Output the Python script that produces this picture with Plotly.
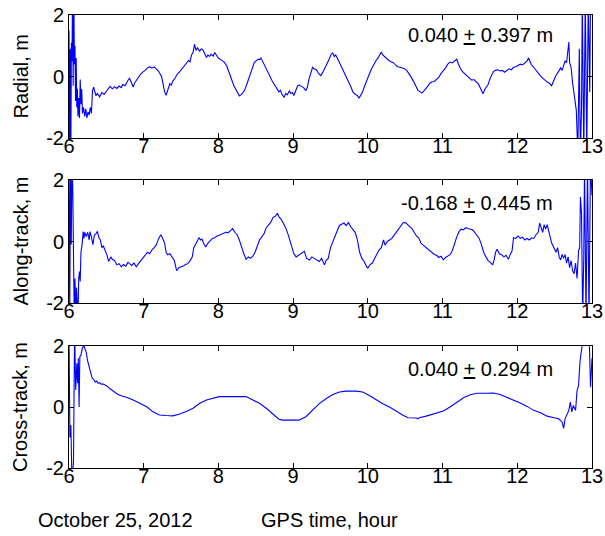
import plotly.graph_objects as go

# ---------------- data ----------------
radial_t = [6.000, 6.008, 6.016, 6.024, 6.032, 6.040, 6.048, 6.056, 6.064, 6.072, 6.080, 6.088, 6.096, 6.104, 6.112, 6.120,
            6.130, 6.140, 6.150, 6.160, 6.170, 6.180, 6.195, 6.210, 6.225, 6.240, 6.255, 6.270, 6.285, 6.300, 6.315, 6.330,
            6.345, 6.36, 6.38, 6.41, 6.44, 6.47, 6.50, 6.53, 6.55, 6.58, 6.61, 6.64, 6.67, 6.70, 6.72, 6.75, 6.77, 6.79,
            6.81, 6.83, 6.86, 6.88, 6.90, 6.93, 6.96, 6.99, 7.02, 7.05, 7.08, 7.11, 7.14, 7.17, 7.20, 7.24, 7.26, 7.28,
            7.30, 7.32, 7.35, 7.37, 7.39, 7.42, 7.45, 7.48, 7.51, 7.54, 7.57, 7.60, 7.62, 7.64, 7.66, 7.68, 7.70, 7.72,
            7.75, 7.77, 7.79, 7.82, 7.84, 7.86, 7.88, 7.90, 7.93, 7.95, 7.97, 8.00, 8.03, 8.06, 8.08, 8.11, 8.13, 8.15,
            8.18, 8.21, 8.24, 8.26, 8.28, 8.31, 8.33, 8.35, 8.38, 8.41, 8.44, 8.46, 8.48, 8.50, 8.53, 8.55, 8.57, 8.59,
            8.62, 8.64, 8.66, 8.69, 8.72, 8.75, 8.77, 8.79, 8.81, 8.83, 8.85, 8.88, 8.90, 8.92, 8.95, 8.97, 8.99, 9.01,
            9.03, 9.06, 9.08, 9.11, 9.14, 9.17, 9.19, 9.21, 9.23, 9.26, 9.28, 9.31, 9.34, 9.37, 9.40, 9.42, 9.45, 9.48,
            9.51, 9.53, 9.55, 9.57, 9.60, 9.62, 9.64, 9.67, 9.69, 9.71, 9.74, 9.77, 9.80, 9.83, 9.86, 9.88, 9.90, 9.93,
            9.95, 9.98, 10.00, 10.02, 10.05, 10.08, 10.11, 10.14, 10.16, 10.18, 10.20, 10.23, 10.25, 10.28, 10.31, 10.34,
            10.37, 10.40, 10.43, 10.46, 10.49, 10.52, 10.55, 10.58, 10.61, 10.64, 10.67, 10.70, 10.72, 10.74, 10.77, 10.80,
            10.83, 10.86, 10.89, 10.92, 10.95, 10.98, 11.01, 11.04, 11.07, 11.10, 11.13, 11.16, 11.19, 11.21, 11.24, 11.27,
            11.30, 11.33, 11.36, 11.39, 11.42, 11.45, 11.48, 11.51, 11.54, 11.57, 11.59, 11.61, 11.63, 11.66, 11.68, 11.71,
            11.74, 11.77, 11.80, 11.83, 11.86, 11.89, 11.92, 11.95, 11.98, 12.01, 12.04, 12.07, 12.10, 12.13, 12.15, 12.17,
            12.19, 12.22, 12.25, 12.28, 12.31, 12.34, 12.37, 12.40, 12.43, 12.46, 12.49, 12.52, 12.55, 12.58, 12.60, 12.62,
            12.64, 12.66, 12.68, 12.69, 12.70, 12.72, 12.74, 12.76, 12.78, 12.79, 12.81, 12.82, 12.83, 12.835, 12.845, 12.86,
            12.87, 12.89, 12.91, 12.93, 12.95, 12.97, 12.98, 13.00]
radial_v = [1.5, -3, 0.9, -3, 1.1, 0.5, 3, -0.3, 3, 0.4, 1.0, -0.8, 0.6, -1.0, -0.4, -1.3,
            -0.7, -1.35, -0.1, -0.9, -0.4, -1.2, -1.0, -1.3, -1.05, -1.35, -1.15, -1.25, -1.0, -1.2, -0.45, -0.35,
            -0.5, -0.62, -0.55, -0.66, -0.52, -0.58, -0.48, -0.38, -0.32, -0.40, -0.33, -0.39, -0.31, -0.36, -0.26, -0.30, -0.2, -0.12,
            -0.06, -0.2, -0.34, -0.2, -0.12, -0.02, 0.08, 0.15, 0.2, 0.28, 0.32, 0.27, 0.31, 0.24, 0.17, -0.01, -0.3, -0.5,
            -0.61, -0.42, -0.23, -0.28, -0.15, -0.05, 0.08, 0.15, 0.25, 0.33, 0.42, 0.52, 0.48, 0.70, 0.78, 1.05, 0.85, 0.93,
            0.82, 0.9, 0.88, 0.72, 0.62, 0.7, 0.65, 0.72, 0.66, 0.78, 0.72, 0.6, 0.55, 0.5, 0.46, 0.35, 0.2, 0.08,
            -0.12, -0.32, -0.45, -0.55, -0.63, -0.58, -0.52, -0.45, -0.25, -0.02, 0.2, 0.35, 0.45, 0.5, 0.56, 0.55, 0.6, 0.5,
            0.35, 0.25, 0.12, -0.05, -0.15, -0.27, -0.35, -0.4, -0.5, -0.45, -0.58, -0.68, -0.55, -0.6, -0.47, -0.55, -0.52, -0.62,
            -0.5, -0.3, -0.28, -0.32, -0.36, -0.46, -0.35, -0.1, 0.1, 0.3, 0.25, 0.22, 0.1, 0.03, 0.15, 0.24, 0.4, 0.55,
            0.73, 0.76, 0.65, 0.7, 0.55, 0.45, 0.32, 0.18, 0.08, -0.02, -0.18, -0.32, -0.5, -0.58, -0.62, -0.7, -0.63, -0.5,
            -0.35, -0.15, 0.0, 0.08, 0.25, 0.4, 0.52, 0.62, 0.72, 0.8, 0.7, 0.62, 0.58, 0.52, 0.48, 0.45,
            0.38, 0.32, 0.3, 0.28, 0.25, 0.2, 0.1, -0.02, -0.15, -0.3, -0.45, -0.5, -0.54, -0.5, -0.42, -0.32,
            -0.22, -0.17, -0.16, -0.1, -0.02, 0.1, 0.18, 0.28, 0.4, 0.47, 0.44, 0.5, 0.56, 0.42, 0.25, 0.15,
            0.08, 0.0, -0.05, -0.12, -0.1, -0.18, -0.25, -0.4, -0.56, -0.4, -0.32, -0.26, -0.1, 0.08, 0.16, 0.2,
            0.22, 0.18, 0.2, 0.14, 0.2, 0.25, 0.22, 0.3, 0.32, 0.35, 0.4, 0.38, 0.45, 0.5, 0.6, 0.48,
            0.38, 0.3, 0.2, 0.1, 0.02, -0.05, -0.12, -0.18, -0.22, -0.3, -0.12, 0.05, 0.15, 0.28, 0.2, 0.4,
            0.5, 0.45, 0.9, 1.12, 0.45, 0.3, -0.2, -0.55, -0.9, -1.1, -2.5, -1.2, 0.9, -0.5, -2.5, -1.0,
            2.5, -2.5, 2.5, -2.5, 2.5, -0.5, 2.5, 2.0]

along_t = [6.000, 6.010, 6.020, 6.030, 6.040, 6.050, 6.060, 6.070, 6.080, 6.090, 6.100, 6.110, 6.120, 6.130, 6.140, 6.150,
           6.160, 6.175, 6.190, 6.200, 6.210, 6.230, 6.250, 6.270, 6.280, 6.300, 6.320, 6.340, 6.360, 6.380, 6.400, 6.420,
           6.440, 6.460, 6.490, 6.510, 6.530, 6.560, 6.580, 6.610, 6.640, 6.670, 6.700, 6.730, 6.760, 6.790, 6.810, 6.840,
           6.870, 6.900, 6.930, 6.960, 6.990, 7.020, 7.050, 7.080, 7.110, 7.140, 7.170, 7.200, 7.230, 7.250, 7.280, 7.300,
           7.320, 7.350, 7.380, 7.410, 7.440, 7.470, 7.500, 7.530, 7.560, 7.590, 7.620, 7.650, 7.670, 7.690, 7.710, 7.740,
           7.760, 7.780, 7.800, 7.830, 7.860, 7.890, 7.920, 7.950, 7.980, 8.010, 8.040, 8.070, 8.100, 8.130, 8.160, 8.190,
           8.220, 8.250, 8.280, 8.310, 8.340, 8.370, 8.400, 8.430, 8.460, 8.490, 8.520, 8.550, 8.580, 8.610, 8.640, 8.670,
           8.700, 8.730, 8.760, 8.790, 8.810, 8.840, 8.870, 8.900, 8.930, 8.960, 8.990, 9.010, 9.040, 9.080, 9.110, 9.150,
           9.180, 9.220, 9.250, 9.280, 9.310, 9.350, 9.380, 9.420, 9.440, 9.470, 9.500, 9.530, 9.560, 9.590, 9.620, 9.650,
           9.680, 9.710, 9.740, 9.770, 9.800, 9.830, 9.860, 9.890, 9.920, 9.950, 9.980, 10.00, 10.03, 10.06, 10.09, 10.12,
           10.15, 10.18, 10.21, 10.23, 10.26, 10.29, 10.32, 10.35, 10.38, 10.41, 10.44, 10.47, 10.50, 10.53, 10.56, 10.59,
           10.62, 10.65, 10.68, 10.71, 10.74, 10.77, 10.80, 10.83, 10.86, 10.89, 10.92, 10.95, 10.98, 11.01, 11.04, 11.07,
           11.10, 11.13, 11.16, 11.19, 11.22, 11.25, 11.28, 11.31, 11.34, 11.37, 11.40, 11.43, 11.46, 11.49, 11.52, 11.55,
           11.58, 11.61, 11.64, 11.67, 11.69, 11.71, 11.73, 11.76, 11.79, 11.82, 11.85, 11.88, 11.91, 11.93, 11.95, 11.98,
           12.01, 12.04, 12.07, 12.10, 12.13, 12.16, 12.19, 12.22, 12.25, 12.28, 12.30, 12.32, 12.34, 12.36, 12.38, 12.40,
           12.42, 12.44, 12.46, 12.49, 12.52, 12.54, 12.56, 12.58, 12.60, 12.62, 12.64, 12.66, 12.68, 12.70, 12.72, 12.74,
           12.76, 12.78, 12.80, 12.82, 12.835, 12.845, 12.86, 12.875, 12.89, 12.90, 12.92, 12.94, 12.96, 12.98, 13.00]
along_v = [2.5, -2.5, 2.5, -0.1, 2.5, 1.8, -0.5, -2.5, -1.2, -2.5, -1.5, -1.8, -2.5, -1.2, -0.98, -1.3,
           -0.35, -0.1, 0.32, 0.1, 0.3, 0.16, 0.3, 0.05, 0.32, 0.15, -0.1, 0.21, 0.25, 0.33, 0.12, 0.05,
           -0.2, -0.15, -0.33, -0.45, -0.65, -0.5, -0.58, -0.62, -0.76, -0.72, -0.82, -0.75, -0.8, -0.68, -0.72, -0.78,
           -0.7, -0.82, -0.72, -0.62, -0.54, -0.45, -0.35, -0.4, -0.27, -0.2, -0.1, 0.1, 0.22, 0.12, -0.05, -0.35,
           -0.43, -0.4, -0.52, -0.62, -0.95, -0.85, -0.82, -0.8, -0.75, -0.72, -0.62, -0.5, -0.2, -0.12, 0.0, 0.12,
           0.05, 0.08, -0.05, -0.18, -0.05, 0.02, 0.1, 0.12, 0.18, 0.2, 0.24, 0.27, 0.3, 0.28, 0.35, 0.42,
           0.3, 0.22, 0.05, -0.2, -0.4, -0.58, -0.5, -0.55, -0.48, -0.35, -0.15, 0.05, 0.15, 0.25, 0.45, 0.55,
           0.62, 0.78, 0.82, 0.92, 0.8, 0.72, 0.6, 0.45, 0.25, 0.0, -0.3, -0.4, -0.5, -0.43, -0.38, -0.32,
           -0.55, -0.6, -0.5, -0.54, -0.6, -0.65, -0.55, -0.76, -0.62, -0.55, -0.2, 0.0, 0.15, 0.35, 0.52, 0.55,
           0.6, 0.52, 0.62, 0.48, 0.4, 0.3, 0.05, -0.35, -0.55, -0.65, -0.8, -0.86, -0.75, -0.7, -0.55, -0.4,
           -0.28, -0.2, 0.05, -0.12, 0.0, 0.05, 0.1, 0.2, 0.3, 0.4, 0.52, 0.6, 0.62, 0.55, 0.5, 0.42,
           0.3, 0.18, 0.12, -0.05, -0.12, -0.18, -0.25, -0.3, -0.38, -0.42, -0.45, -0.52, -0.48, -0.6, -0.52, -0.48,
           -0.43, -0.3, -0.05, 0.15, 0.32, 0.4, 0.38, 0.45, 0.42, 0.4, 0.38, 0.3, 0.2, 0.1, -0.1, -0.35,
           -0.5, -0.62, -0.68, -0.76, -0.6, -0.35, -0.25, -0.4, -0.43, -0.5, -0.45, -0.58, -0.4, -0.3, 0.12, 0.1,
           0.18, 0.1, 0.14, 0.05, 0.1, 0.05, 0.12, 0.1, 0.22, 0.3, 0.6, 0.45, 0.3, 0.55, 0.4, 0.55,
           0.35, 0.2, -0.05, -0.2, -0.35, -0.2, -0.5, -0.6, -0.42, -0.55, -0.43, -0.7, -0.5, -0.85, -0.62, -0.95,
           -1.05, -0.7, -1.2, -0.3, -0.2, 1.45, 0.9, -2.5, -0.5, 2.5, -2.5, 2.5, -2.5, 2.5, 1.5]

cross_t = [6.000, 6.012, 6.025, 6.040, 6.060, 6.075, 6.090, 6.105, 6.115, 6.125, 6.135, 6.145, 6.160, 6.180, 6.200, 6.215,
           6.230, 6.250, 6.270, 6.290, 6.310, 6.330, 6.350, 6.370, 6.390, 6.410, 6.430, 6.460, 6.500, 6.550, 6.600, 6.650,
           6.700, 6.770, 6.860, 6.950, 7.040, 7.120, 7.210, 7.300, 7.390, 7.480, 7.570, 7.660, 7.750, 7.840, 7.920, 8.010,
           8.190, 8.370, 8.460, 8.550, 8.640, 8.720, 8.810, 8.860, 9.080, 9.17, 9.26, 9.35, 9.44, 9.53, 9.62, 9.71,
           9.84, 9.93, 10.02, 10.11, 10.20, 10.29, 10.38, 10.47, 10.54, 10.65, 10.67, 10.69, 10.78, 10.87, 11.01, 11.10,
           11.19, 11.28, 11.37, 11.46, 11.59, 11.68, 11.77, 11.86, 11.95, 12.04, 12.13, 12.22, 12.31, 12.40, 12.49, 12.55,
           12.60, 12.62, 12.64, 12.69, 12.71, 12.73, 12.75, 12.78, 12.80, 12.82, 12.84, 12.87, 12.90, 12.96, 12.98, 13.00]
cross_v = [2.5, -1.0, -0.6, -2.5, -1.8, 2.5, 0.56, 1.43, 0.78, 1.6, 0.0, 1.65, 1.7, 1.95, 2.0, 1.9,
           1.8, 1.5, 1.3, 1.1, 0.95, 0.9, 0.82, 0.85, 0.78, 0.8, 0.75, 0.75, 0.7, 0.6, 0.5, 0.42,
           0.37, 0.32, 0.23, 0.12, 0.01, -0.15, -0.26, -0.28, -0.29, -0.23, -0.15, -0.04, 0.12, 0.23, 0.28, 0.34,
           0.34, 0.34, 0.23, 0.12, -0.04, -0.21, -0.40, -0.43, -0.43, -0.32, -0.11, 0.11, 0.27, 0.41, 0.49, 0.52,
           0.52, 0.49, 0.38, 0.24, 0.11, 0.0, -0.14, -0.27, -0.35, -0.36, -0.39, -0.35, -0.3, -0.24, -0.13, 0.0,
           0.16, 0.3, 0.4, 0.45, 0.45, 0.46, 0.41, 0.32, 0.24, 0.13, 0.02, -0.11, -0.19, -0.3, -0.35, -0.38,
           -0.49, -0.7, -0.38, -0.11, 0.16, -0.16, 0.05, -0.11, 0.54, 0.7, 1.51, 2.0, 2.6, 2.6, 0.65, 1.6]

stats_text = ["0.040 <u>+</u> 0.397 m", "-0.168 <u>+</u> 0.445 m", "0.040 <u>+</u> 0.294 m"]
y_titles = ["Radial, m", "Along-track, m", "Cross-track, m"]
x_ticks = [6, 7, 8, 9, 10, 11, 12, 13]
y_ticks = [-2, 0, 2]
date_label = "October 25, 2012"
x_title = "GPS time, hour"

# ---------------- figure ----------------
FONT = "Liberation Sans, Arial, sans-serif"
W, H = 605, 536
# plot box in screen pixels (page body margin is removed by post_script)
SX0, SX1, SY0, SY1 = 69, 592, 15, 468
ML, MT = SX0, SY0
MR = W - SX1
MB = H - SY1
plot_h = H - MT - MB
plot_w = W - ML - MR
panels_px = [(15, 138), (180, 303), (346, 468)]


def py2paper(py):
    return 1 - (py - SY0) / plot_h


def px2paper(px):
    return (px - SX0) / plot_w


fig = go.Figure()
series = [(radial_t, radial_v), (along_t, along_v), (cross_t, cross_v)]
for i, (t, v) in enumerate(series):
    sfx = "" if i == 0 else str(i + 1)
    fig.add_trace(go.Scatter(x=t, y=v, mode="lines", line=dict(color="#0000ff", width=1.1),
                             xaxis="x" + sfx, yaxis="y" + sfx, showlegend=False, hoverinfo="skip"))

axis_common = dict(showgrid=False, zeroline=False, showline=True, linecolor="black", linewidth=1,
                   mirror="ticks", ticks="inside", ticklen=5, tickcolor="black", tickwidth=1,
                   automargin=False, ticklabeloverflow="allow",
                   tickfont=dict(family=FONT, size=20, color="black"))

layout = dict(width=W, height=H, margin=dict(l=ML, r=MR, t=MT, b=MB, autoexpand=False),
              paper_bgcolor="white", plot_bgcolor="white", showlegend=False,
              font=dict(family=FONT, size=20, color="black"))
for i, (top, bot) in enumerate(panels_px):
    sfx = "" if i == 0 else str(i + 1)
    layout["xaxis" + sfx] = dict(axis_common, domain=[0, 1], range=[6, 13], tickvals=x_ticks,
                                 ticktext=[str(v) for v in x_ticks], anchor="y" + sfx,
                                 ticklabelstandoff=-10)
    layout["yaxis" + sfx] = dict(axis_common, domain=[py2paper(bot), py2paper(top)], range=[-2, 2],
                                 tickvals=y_ticks, ticktext=[str(v) for v in y_ticks], anchor="x" + sfx)
fig.update_layout(**layout)

ann = []
for i, (top, bot) in enumerate(panels_px):
    sfx = "" if i == 0 else str(i + 1)
    ann.append(dict(x=12.5, y=[1.35, 1.25, 1.25][i], xref="x" + sfx, yref="y" + sfx, text=stats_text[i],
                    showarrow=False, xanchor="right", yanchor="middle",
                    font=dict(family=FONT, size=20, color="black")))
    ann.append(dict(x=px2paper(20), y=py2paper((top + bot) / 2), xref="paper", yref="paper",
                    text=y_titles[i], textangle=-90, showarrow=False, xanchor="center", yanchor="middle",
                    font=dict(family=FONT, size=20, color="black")))
ann.append(dict(x=px2paper(115.5), y=py2paper(520), xref="paper", yref="paper",
                text=date_label, showarrow=False, xanchor="center", yanchor="middle",
                font=dict(family=FONT, size=20, color="black")))
ann.append(dict(x=px2paper(329.5), y=py2paper(520), xref="paper", yref="paper",
                text=x_title, showarrow=False, xanchor="center", yanchor="middle",
                font=dict(family=FONT, size=20, color="black")))
fig.update_layout(annotations=ann)

fig.write_html("out.html", config={"displayModeBar": False, "staticPlot": True},
               post_script="document.body.style.margin='0';")
